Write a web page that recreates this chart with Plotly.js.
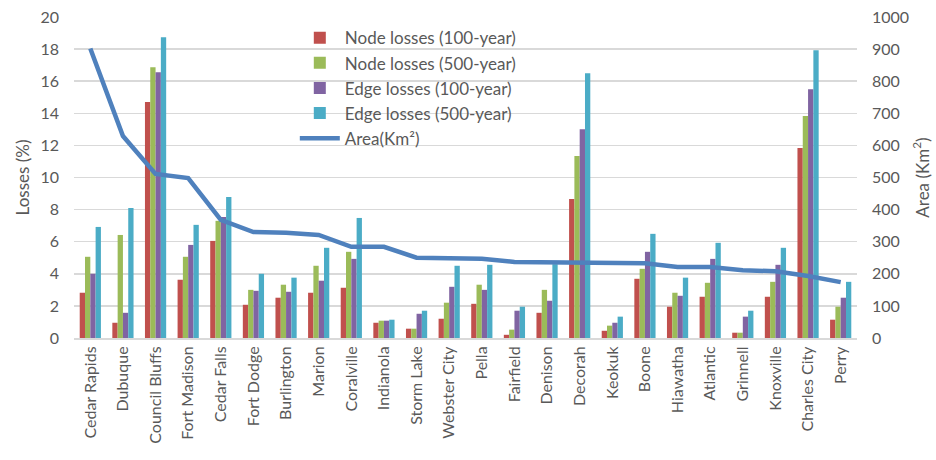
<!DOCTYPE html>
<html>
<head>
<meta charset="utf-8">
<script src="https://cdn.plot.ly/plotly-3.0.1.min.js"></script>
<style>html,body{margin:0;padding:0;background:#fff;}#chart{width:936px;height:460px;}</style>
</head>
<body>
<div id="chart"></div>
<script>
const cities = ["Cedar Rapids","Dubuque","Council Bluffs","Fort Madison","Cedar Falls","Fort Dodge","Burlington","Marion","Coralville","Indianola","Storm Lake","Webster City","Pella","Fairfield","Denison","Decorah","Keokuk","Boone","Hiawatha","Atlantic","Grinnell","Knoxville","Charles City","Perry"];
const nodeLoss100 = [2.82,0.95,14.7,3.63,6.05,2.07,2.51,2.82,3.13,0.95,0.58,1.2,2.13,0.2,1.57,8.66,0.45,3.69,1.95,2.57,0.33,2.57,11.84,1.14];
const nodeLoss500 = [5.06,6.42,16.87,5.06,7.3,3.0,3.32,4.5,5.37,1.08,0.58,2.2,3.32,0.52,3.0,11.34,0.77,4.31,2.82,3.44,0.33,3.5,13.83,1.95];
const edgeLoss100 = [4.0,1.57,16.56,5.8,7.54,2.94,2.88,3.57,4.93,1.08,1.51,3.19,3.0,1.7,2.32,13.0,0.95,5.37,2.63,4.93,1.33,4.56,15.5,2.51];
const edgeLoss500 = [6.92,8.1,18.74,7.05,8.79,4.0,3.76,5.62,7.48,1.14,1.7,4.5,4.56,1.95,4.6,16.5,1.33,6.49,3.76,5.93,1.7,5.62,17.93,3.5];
const areaKm2 = [902,629,511,498,368,330,328,321,284,284,250,247,247,237,236,233,233,233,221,221,211,208,193,174];
const leftTicks = [0,2,4,6,8,10,12,14,16,18,20];
const rightTicks = [0,100,200,300,400,500,600,700,800,900,1000];

const FONT = "Lato, 'Open Sans', 'Liberation Sans', sans-serif";
const TXT = "#595959";

const barSeries = [
  {name:"Node losses (100-year)", y:nodeLoss100, color:"#C0504D"},
  {name:"Node losses (500-year)", y:nodeLoss500, color:"#9BBB59"},
  {name:"Edge losses (100-year)", y:edgeLoss100, color:"#8064A2"},
  {name:"Edge losses (500-year)", y:edgeLoss500, color:"#4BACC6"}
];
const traces = barSeries.map(s => ({
  type:"bar", x:cities, y:s.y, name:s.name,
  marker:{color:s.color}, yaxis:"y", hoverinfo:"x+y"
}));
traces.push({
  type:"scatter", mode:"lines", x:cities, y:areaKm2, name:"Area(Km²)",
  yaxis:"y2", line:{color:"#4F81BD", width:4.5}
});

const layout = {
  width:936, height:460,
  margin:{l:74, r:79, t:17, b:122},
  paper_bgcolor:"#fff", plot_bgcolor:"#fff",
  font:{family:FONT, size:16, color:TXT},
  barmode:"group", bargap:0.35, bargroupgap:0,
  showlegend:true,
  legend:{x:0.282, y:0.99, xanchor:"left", yanchor:"top", bgcolor:"rgba(0,0,0,0)",
          font:{family:FONT, size:17, color:TXT}, tracegroupgap:0, itemwidth:40},
  xaxis:{type:"category", tickangle:-90, tickfont:{family:FONT, size:16, color:TXT},
         showgrid:false, showline:true, linecolor:"#d9d9d9", linewidth:2, ticks:"", automargin:false},
  yaxis:{range:[0,20], tickvals:leftTicks, ticktext:leftTicks.map(String),
         showgrid:true, gridcolor:"#d9d9d9", gridwidth:1.5, zeroline:false, ticks:"", ticklen:0,
         ticklabelstandoff:14,
         tickfont:{family:FONT, size:16, color:TXT}, automargin:false,
         title:{text:"Losses (%)", font:{family:FONT, size:17, color:TXT}, standoff:6}},
  yaxis2:{range:[0,1000], tickvals:rightTicks, ticktext:rightTicks.map(String), overlaying:"y", side:"right",
          showgrid:false, zeroline:false, ticks:"", ticklabelstandoff:14,
          tickfont:{family:FONT, size:16, color:TXT}, automargin:false,
          title:{text:"Area (Km<sup>2</sup>)", font:{family:FONT, size:17, color:TXT}, standoff:8}}
};

Plotly.newPlot("chart", traces, layout, {staticPlot:true, displayModeBar:false});
</script>
</body>
</html>
